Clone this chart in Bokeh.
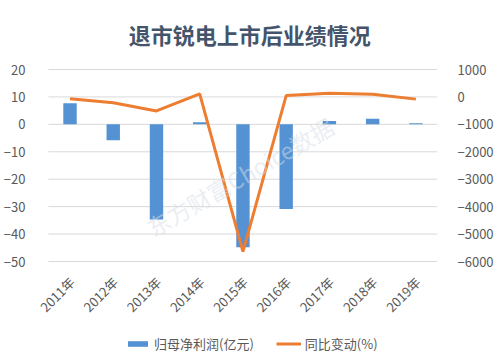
from math import pi
from bokeh.plotting import figure
from bokeh.models import Range1d, LinearAxis, Legend, LegendItem, Label, ColumnDataSource, FixedTicker
from bokeh.core.properties import value
from bokeh.embed import file_html
from bokeh.resources import INLINE

years = ["2011年", "2012年", "2013年", "2014年", "2015年", "2016年", "2017年", "2018年", "2019年"]
profit = [7.7, -5.8, -34.7, 0.8, -44.8, -30.9, 1.2, 2.0, 0.4]          # 归母净利润(亿元)
yoy = [-70, -215, -510, 110, -5640, 50, 130, 100, -80]                   # 同比变动(%)
left_ticks = [-50, -40, -30, -20, -10, 0, 10, 20]
right_ticks = [-6000, -5000, -4000, -3000, -2000, -1000, 0, 1000]

TITLE = "退市锐电上市后业绩情况"
BAR_NAME = "归母净利润(亿元)"
LINE_NAME = "同比变动(%)"
WATERMARK = "东方财富Choice数据"
FONT = "Noto Sans CJK SC"
GRAY = "#595959"

# layout (pixels)
W, H = 496, 353
LEFT, RIGHT = 33, 57
TOP_PX = 69              # space above the gridded region (title area)
AXIS_PX = 192            # height of the gridded region
CAT_LEFT_PX = 14         # free space left of the first category (for rotated labels)
frame_w = W - LEFT - RIGHT
n = len(years)
idx = list(range(n))
cat_px = (frame_w - CAT_LEFT_PX) / n

below = (H - TOP_PX - AXIS_PX) / AXIS_PX
above = TOP_PX / AXIS_PX
l_lo, l_hi = left_ticks[0], left_ticks[-1]
r_lo, r_hi = right_ticks[0], right_ticks[-1]
px_per_unit = AXIS_PX / (l_hi - l_lo)

src = ColumnDataSource(dict(i=idx, name=years, profit=profit, yoy=yoy,
                            ly=[l_lo - 18 / px_per_unit] * n))
grid_src = ColumnDataSource(dict(y=left_ticks, x0=[-0.5] * len(left_ticks),
                                 x1=[n - 0.5] * len(left_ticks)))

p = figure(x_range=Range1d(-0.5 - CAT_LEFT_PX / cat_px, n - 0.5),
           y_range=Range1d(l_lo - below * (l_hi - l_lo), l_hi + above * (l_hi - l_lo)),
           width=W, height=H,
           output_backend="svg", toolbar_location=None, x_axis_location=None,
           min_border_left=LEFT, min_border_right=RIGHT, min_border_top=0,
           min_border_bottom=0)
p.extra_y_ranges = {"r": Range1d(r_lo - below * (r_hi - r_lo), r_hi + above * (r_hi - r_lo))}

p.outline_line_color = None
p.xgrid.grid_line_color = None
p.ygrid.grid_line_color = None
p.yaxis.ticker = FixedTicker(ticks=left_ticks)

# horizontal gridlines spanning only the category area
p.segment(x0="x0", x1="x1", y0="y", y1="y", source=grid_src,
          line_color="#D9D9D9", line_width=1)

# title, centred over the chart, 36px above the top gridline
title = Label(x=4.16, y=l_hi + 36 / px_per_unit, text=TITLE,
              text_align="center", text_baseline="middle", text_font=FONT,
              text_font_size="22px", text_font_style="bold", text_color="#44546A")
p.add_layout(title)

wm = Label(x=3.93, y=-19, text=WATERMARK, angle=30, angle_units="deg",
           text_align="center", text_baseline="middle", text_font=FONT,
           text_font_size="23px", text_color="#D6DEE8", text_alpha=0.5)
p.add_layout(wm)

bars = p.vbar(x="i", top="profit", bottom=0, width=0.31, source=src,
              fill_color="#5592D3", line_color=None)
line = p.line(x="i", y="yoy", source=src, y_range_name="r",
              line_color="#ED7D31", line_width=3)

ra = LinearAxis(y_range_name="r", ticker=FixedTicker(ticks=right_ticks))
p.add_layout(ra, "right")

for ax in [p.yaxis[0], ra]:
    ax.axis_line_color = None
    ax.major_tick_line_color = None
    ax.minor_tick_line_color = None
    ax.major_label_text_font = FONT
    ax.major_label_text_font_size = "13px"
    ax.major_label_text_color = GRAY
p.yaxis[0].major_label_standoff = 3
ra.major_label_standoff = 14

# category labels, rotated 45 degrees, ending just below each category
p.text(x="i", y="ly", text="name", source=src, angle=pi / 4, x_offset=2,
       text_align="right", text_baseline="middle", text_font=value(FONT),
       text_font_size="13px", text_color=GRAY)

legend = Legend(items=[LegendItem(label=BAR_NAME, renderers=[bars]),
                       LegendItem(label=LINE_NAME, renderers=[line])],
                orientation="horizontal", location=(91, 0),
                border_line_color=None, background_fill_alpha=0,
                label_text_font=FONT, label_text_font_size="13px", label_text_color=GRAY,
                glyph_width=25, glyph_height=7, spacing=22, label_standoff=4,
                margin=0, padding=4)
p.add_layout(legend)

open("out.html", "w").write(file_html(p, INLINE))
